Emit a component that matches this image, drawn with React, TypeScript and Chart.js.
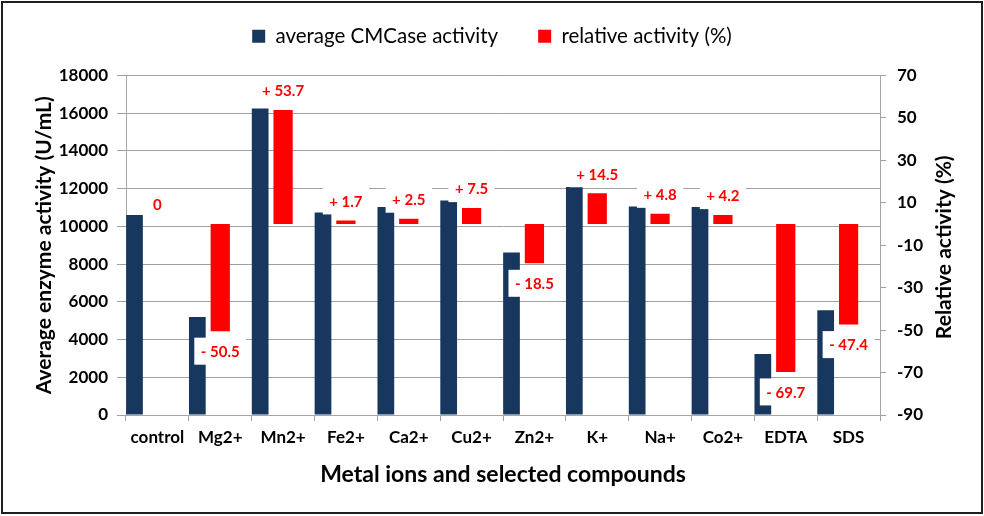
import React, { useEffect, useRef } from "react";
import { Chart, registerables } from "chart.js";

Chart.register(...registerables);

const categories = ["control", "Mg2+", "Mn2+", "Fe2+", "Ca2+", "Cu2+", "Zn2+", "K+", "Na+", "Co2+", "EDTA", "SDS"];
const cmcaseActivity = [10600, 5200, 16250, 10730, 11030, 11370, 8610, 12090, 11060, 11030, 3230, 5560];
const relativeActivity = [0, -50.5, 53.7, 1.7, 2.5, 7.5, -18.5, 14.5, 4.8, 4.2, -69.7, -47.4];

const seriesNames = ["average CMCase activity", "relative activity (%)"];
const leftTitle = "Average enzyme activity (U/mL)";
const rightTitle = "Relative activity (%)";
const xTitle = "Metal ions and selected compounds";

const BLUE = "#17375E";
const RED = "#FF0000";
const GRID = "#a0a0a0";
const AXIS = "#a6a6a6";
const FONT = "Lato";

function fmt(v: number): string {
  if (v > 0) return "+ " + v.toFixed(1);
  if (v < 0) return "- " + Math.abs(v).toFixed(1);
  return "0";
}

const labelPlugin = {
  id: "valueLabels",
  afterDatasetsDraw(chart: any) {
    const meta = chart.getDatasetMeta(1);
    const ctx = chart.ctx;
    ctx.save();
    ctx.font = `bold 15px ${FONT}`;
    ctx.textAlign = "center";
    ctx.textBaseline = "middle";
    meta.data.forEach((el: any, i: number) => {
      const v = relativeActivity[i];
      const text = fmt(v);
      const cy = v >= 0 ? el.y - 19.5 : el.y + 20;
      const w = ctx.measureText(text).width + 13;
      ctx.fillStyle = "#ffffff";
      ctx.fillRect(el.x - w / 2, cy - 13.5, w, 27);
      ctx.fillStyle = RED;
      ctx.fillText(text, el.x, cy + 1);
    });
    ctx.restore();
  },
};

const framePlugin = {
  id: "frame",
  beforeDraw(chart: any) {
    const ctx = chart.ctx;
    ctx.save();
    ctx.fillStyle = "#ffffff";
    ctx.fillRect(0, 0, chart.width, chart.height);
    ctx.restore();
  },
  afterDraw(chart: any) {
    const ctx = chart.ctx;
    const s = chart.scales.y1;
    ctx.save();
    ctx.font = `bold 21px ${FONT}`;
    ctx.fillStyle = "#000";
    ctx.textAlign = "center";
    ctx.textBaseline = "middle";
    ctx.translate(s.right - 20, (s.top + s.bottom) / 2 + 2);
    ctx.rotate(-Math.PI / 2);
    ctx.fillText(rightTitle, 0, 0);
    ctx.restore();

    ctx.save();
    ctx.strokeStyle = "#1e1e1e";
    ctx.lineWidth = 2;
    ctx.strokeRect(2, 2, 980, 511);
    ctx.restore();
  },
};

export default function App() {
  const ref = useRef<HTMLCanvasElement | null>(null);

  useEffect(() => {
    if (!ref.current) return;
    const tickFont = { family: FONT, size: 17, weight: "bold" as const };
    const chart = new Chart(ref.current, {
      type: "bar",
      data: {
        labels: categories,
        datasets: [
          {
            label: seriesNames[0],
            data: cmcaseActivity,
            backgroundColor: BLUE,
            yAxisID: "y",
            barPercentage: 0.73,
            categoryPercentage: 1.094,
          },
          {
            label: seriesNames[1],
            data: relativeActivity,
            backgroundColor: RED,
            yAxisID: "y1",
            barPercentage: 0.84,
            categoryPercentage: 1.094,
          },
          {
            label: "",
            data: categories.map(() => null),
            backgroundColor: "rgba(0,0,0,0)",
            yAxisID: "y",
            barPercentage: 0.8,
            categoryPercentage: 1.094,
          },
        ],
      },
      options: {
        responsive: false,
        animation: false,
        devicePixelRatio: 1,
        events: [],
        layout: { padding: { left: 20, right: 20, top: -14, bottom: 26 } },
        plugins: {
          legend: {
            position: "top",
            labels: {
              boxWidth: 13,
              boxHeight: 13,
              padding: 40,
              color: "#000",
              font: { family: FONT, size: 20.5 },
              filter: (item: any) => item.datasetIndex < 2,
            },
          },
          title: {
            display: true,
            text: " ",
            weight: 100,
            font: { size: 1, lineHeight: 1 },
            padding: { top: 9, bottom: 9 },
          } as any,
          tooltip: { enabled: false },
        },
        scales: {
          x: {
            offset: true,
            grid: { display: true, drawOnChartArea: false, drawTicks: true, tickLength: 6, color: GRID, offset: true },
            border: { display: true, color: AXIS },
            ticks: { color: "#000", font: tickFont, padding: 6, maxRotation: 0, autoSkip: false },
            title: {
              display: true,
              text: xTitle,
              color: "#000",
              font: { family: FONT, size: 23, weight: "bold" },
              padding: { top: 0, bottom: 2 },
            },
            afterFit: (s: any) => {
              s.height = 75;
            },
          },
          y: {
            position: "left",
            min: 0,
            max: 18000,
            grid: { color: GRID, tickLength: 9 },
            border: { display: true, color: AXIS },
            ticks: { stepSize: 2000, color: "#000", font: tickFont, padding: 9, callback: (v: any) => String(v) },
            title: {
              display: true,
              text: leftTitle,
              color: "#000",
              font: { family: FONT, size: 21, weight: "bold" },
              padding: { top: 11.4, bottom: 0 },
            },
            afterFit: (s: any) => {
              s.width = 106;
            },
          },
          y1: {
            position: "right",
            min: -90,
            max: 70,
            grid: { drawOnChartArea: false, tickLength: 6, color: GRID },
            border: { display: true, color: AXIS },
            ticks: { stepSize: 20, color: "#000", font: tickFont, padding: 11, callback: (v: any) => String(v) },
            title: { display: false },
            afterFit: (s: any) => {
              s.width = 84;
            },
          },
        },
      },
      plugins: [labelPlugin, framePlugin],
    } as any);
    return () => chart.destroy();
  }, []);

  return (
    <div style={{ position: "absolute", left: 0, top: 0, width: 984, height: 516 }}>
      <canvas ref={ref} width={984} height={516} style={{ display: "block" }} />
    </div>
  );
}
